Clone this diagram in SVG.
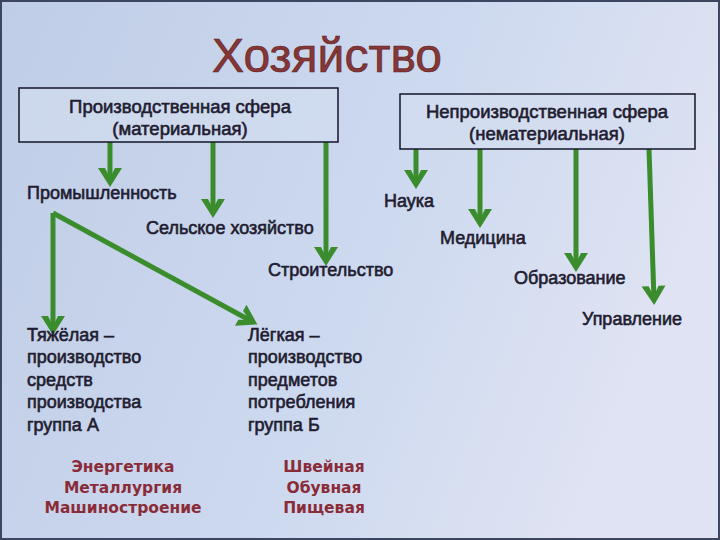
<svg xmlns="http://www.w3.org/2000/svg" width="720" height="540" viewBox="0 0 720 540">
<defs>
<linearGradient id="bg" x1="0" y1="0" x2="1" y2="0.3">
<stop offset="0" stop-color="#bfcde6"/>
<stop offset="0.6" stop-color="#cdd9ef"/>
<stop offset="1" stop-color="#dfe3f3"/>
</linearGradient>
<marker id="ah" markerUnits="userSpaceOnUse" markerWidth="26" markerHeight="26" viewBox="-19 -13 26 26" refX="0" refY="0" orient="auto">
<path d="M5,0 L-14,-12 L-14,-5 L-4,0 L-14,5 L-14,12 Z" fill="#3a8c2c"/>
</marker>
<style>
.lbl{font-family:"Liberation Sans",Arial,sans-serif;font-size:18px;fill:#221c30;stroke:#221c30;stroke-width:0.6}
.bt{font-size:18.5px;text-anchor:middle}
.box{fill:#d3def0;fill-opacity:0.6;stroke:#141428;stroke-width:1.5}
.con{stroke:#3a8c2c;stroke-width:5;fill:none;marker-end:url(#ah)}
.lst{font-family:"DejaVu Sans",Verdana,sans-serif;font-weight:bold;font-size:15.5px;fill:#8a2c38;text-anchor:middle}
</style>
</defs>
<rect x="0" y="0" width="720" height="540" fill="url(#bg)"/>
<rect x="1" y="1" width="718" height="538" fill="none" stroke="#3c4660" stroke-width="2"/>

<g id="title">
<text x="327" y="72" text-anchor="middle" font-family="'Liberation Sans',Arial,sans-serif" font-size="48" fill="#863636" stroke="#5a2020" stroke-width="0.6">Хозяйство</text>
</g>

<g id="connectors">
<line class="con" x1="110" y1="142" x2="110" y2="182"/>
<line class="con" x1="213" y1="142" x2="213" y2="213"/>
<line class="con" x1="326" y1="142" x2="326" y2="261"/>
<line class="con" x1="416" y1="149" x2="416" y2="184"/>
<line class="con" x1="480" y1="149" x2="480" y2="223"/>
<line class="con" x1="576" y1="149" x2="576" y2="267"/>
<line class="con" x1="649" y1="149" x2="654" y2="300"/>
<line class="con" x1="53" y1="213" x2="53" y2="330"/>
<line class="con" x1="53" y1="213" x2="253" y2="322"/>
</g>

<g id="prod">
<rect class="box" x="19" y="88" width="319" height="54"/>
<text class="lbl bt" x="180" y="113">Производственная сфера</text>
<text class="lbl bt" x="180" y="135">(материальная)</text>
</g>
<g id="nonprod">
<rect class="box" x="400" y="94" width="295" height="55"/>
<text class="lbl bt" x="547" y="118">Непроизводственная сфера</text>
<text class="lbl bt" x="547" y="140">(нематериальная)</text>
</g>

<g id="industry"><text class="lbl" x="27" y="199">Промышленность</text></g>
<g id="agri"><text class="lbl" x="146" y="234">Сельское хозяйство</text></g>
<g id="constr"><text class="lbl" x="268" y="276">Строительство</text></g>
<g id="science"><text class="lbl" x="384" y="207">Наука</text></g>
<g id="medicine"><text class="lbl" x="440" y="244">Медицина</text></g>
<g id="education"><text class="lbl" x="514" y="284">Образование</text></g>
<g id="management"><text class="lbl" x="582" y="325">Управление</text></g>

<g id="heavy">
<text class="lbl" x="27" y="341">Тяжёлая –</text>
<text class="lbl" x="27" y="363">производство</text>
<text class="lbl" x="27" y="386">средств</text>
<text class="lbl" x="27" y="408">производства</text>
<text class="lbl" x="27" y="431">группа А</text>
</g>
<g id="light">
<text class="lbl" x="248" y="341">Лёгкая –</text>
<text class="lbl" x="248" y="363">производство</text>
<text class="lbl" x="248" y="386">предметов</text>
<text class="lbl" x="248" y="408">потребления</text>
<text class="lbl" x="248" y="431">группа Б</text>
</g>

<g id="heavy-list">
<text class="lst" x="123" y="472">Энергетика</text>
<text class="lst" x="123" y="493">Металлургия</text>
<text class="lst" x="123" y="513">Машиностроение</text>
</g>
<g id="light-list">
<text class="lst" x="324" y="472">Швейная</text>
<text class="lst" x="324" y="493">Обувная</text>
<text class="lst" x="324" y="513">Пищевая</text>
</g>
</svg>
